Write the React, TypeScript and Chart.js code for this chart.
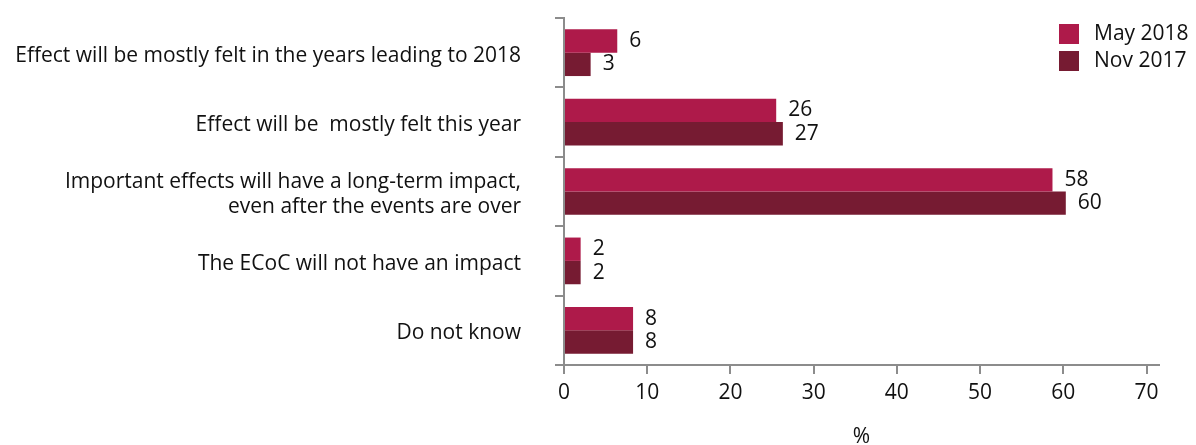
import React, { useEffect, useRef } from "react";
import { Chart, registerables } from "chart.js";

Chart.register(...registerables);

const categories: (string | string[])[] = [
  "Effect will be mostly felt in the years leading to 2018",
  "Effect will be  mostly felt this year",
  ["Important effects will have a long-term impact,", "even after the events are over"],
  "The ECoC will not have an impact",
  "Do not know",
];
const seriesNames = ["May 2018", "Nov 2017"];
const may2018 = [6.4, 25.5, 58.7, 2.0, 8.3];
const nov2017 = [3.2, 26.3, 60.3, 2.0, 8.3];
const may2018Labels = ["6", "26", "58", "2", "8"];
const nov2017Labels = ["3", "27", "60", "2", "8"];
const xTickStep = 10;
const xMin = 0;
const xMax = 71.5;
const xTitle = "%";

const colors = ["#AE1A4A", "#761B32"];
const axisColor = "#8c8c8c";
const textColor = "#111111";
const FONT = "'Open Sans'";
const FS = 21;

const valueLabelsPlugin = {
  id: "valueLabels",
  afterDatasetsDraw(chart: any) {
    const ctx = chart.ctx;
    const labelSets = [may2018Labels, nov2017Labels];
    ctx.save();
    ctx.font = `${FS}px ${FONT}`;
    ctx.fillStyle = textColor;
    ctx.textAlign = "left";
    ctx.textBaseline = "middle";
    chart.data.datasets.forEach((_ds: any, di: number) => {
      const meta = chart.getDatasetMeta(di);
      meta.data.forEach((bar: any, i: number) => {
        ctx.fillText(labelSets[di][i], bar.x + 12, bar.y);
      });
    });
    ctx.restore();
  },
};

const legendPlugin = {
  id: "customLegend",
  afterDraw(chart: any) {
    const ctx = chart.ctx;
    ctx.save();
    ctx.font = `${FS}px ${FONT}`;
    ctx.textAlign = "left";
    ctx.textBaseline = "middle";
    chart.data.datasets.forEach((ds: any, i: number) => {
      const y = 24 + i * 27;
      ctx.fillStyle = ds.backgroundColor;
      ctx.fillRect(1059, y, 20, 20);
      ctx.fillStyle = textColor;
      ctx.fillText(ds.label, 1094, y + 10);
    });
    ctx.restore();
  },
};

export default function App() {
  const ref = useRef<HTMLCanvasElement>(null);
  useEffect(() => {
    if (!ref.current) return;
    const chart = new Chart(ref.current, {
      type: "bar",
      data: {
        labels: categories,
        datasets: [
          {
            label: seriesNames[0],
            data: may2018,
            backgroundColor: colors[0],
            barPercentage: 1,
            categoryPercentage: 0.673,
          },
          {
            label: seriesNames[1],
            data: nov2017,
            backgroundColor: colors[1],
            barPercentage: 1,
            categoryPercentage: 0.673,
          },
        ],
      },
      options: {
        indexAxis: "y",
        responsive: false,
        animation: false,
        layout: { padding: { top: 18, right: 37, left: 0, bottom: 0 } },
        plugins: {
          legend: { display: false },
          tooltip: { enabled: false },
        },
        scales: {
          y: {
            type: "category",
            grid: {
              display: true,
              drawOnChartArea: false,
              drawTicks: true,
              tickLength: 9,
              color: axisColor,
              lineWidth: 2,
              offset: true,
            },
            border: { display: true, color: axisColor, width: 2 },
            ticks: {
              font: { family: FONT, size: FS, lineHeight: 1.2 },
              color: textColor,
              padding: 34,
              labelOffset: 3,
            },
            afterFit: (s: any) => {
              s.width = 564;
              s.paddingTop = 0;
              s.paddingBottom = 0;
            },
          },
          x: {
            type: "linear",
            min: xMin,
            max: xMax,
            grid: {
              drawOnChartArea: false,
              drawTicks: true,
              tickLength: 9,
              color: axisColor,
              lineWidth: 2,
            },
            border: { display: true, color: axisColor, width: 2 },
            ticks: {
              stepSize: xTickStep,
              includeBounds: false,
              font: { family: FONT, size: FS },
              color: textColor,
              padding: 6,
              maxRotation: 0,
            },
            title: {
              display: true,
              text: xTitle,
              font: { family: FONT, size: FS, lineHeight: 1.2 },
              color: textColor,
              padding: { top: 0, bottom: -5 },
            },
            afterFit: (s: any) => {
              s.height = 80;
            },
          },
        },
      },
      plugins: [valueLabelsPlugin, legendPlugin],
    });
    return () => chart.destroy();
  }, []);
  return (
    <div style={{ position: "absolute", left: 0, top: 0, width: 1196, height: 445, background: "#fff" }}>
      <canvas ref={ref} width={1196} height={445} style={{ display: "block" }} />
    </div>
  );
}
